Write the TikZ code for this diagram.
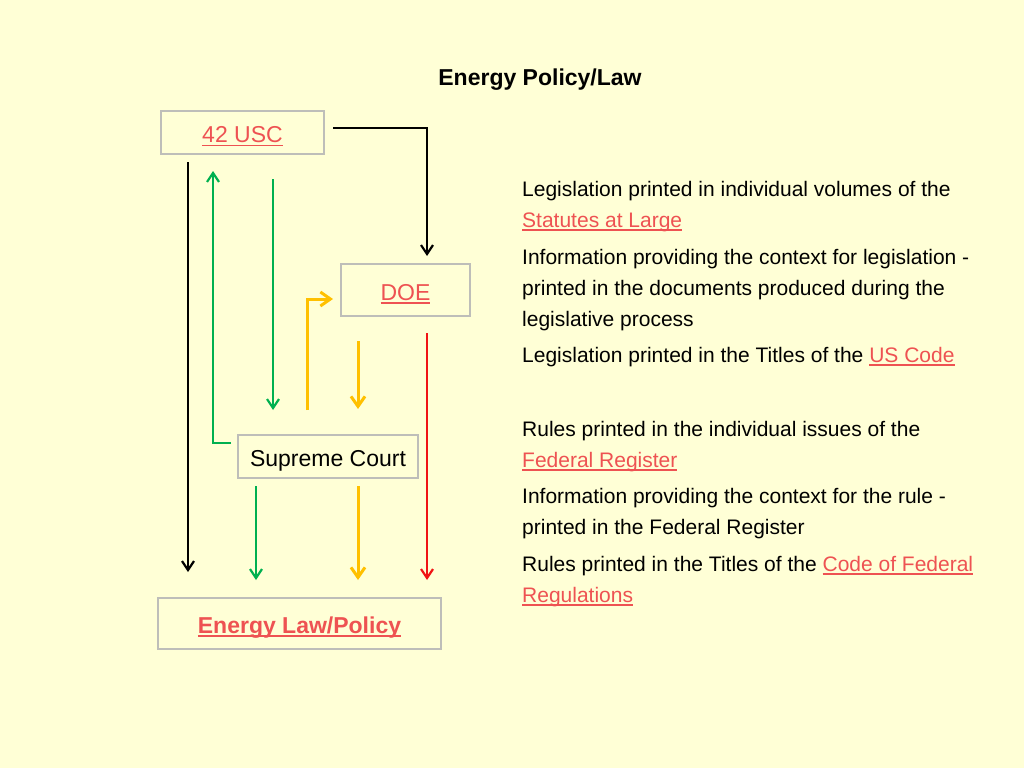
\documentclass[tikz,border=0pt]{standalone}
\usepackage{fontspec}
\setmainfont{Liberation Sans}
\usetikzlibrary{arrows.meta}
\definecolor{bgyellow}{RGB}{255,255,214}
\definecolor{linkred}{RGB}{238,82,82}
\definecolor{boxgray}{RGB}{190,190,185}
\definecolor{arrgreen}{RGB}{0,176,80}
\definecolor{arryellow}{RGB}{255,192,0}
\definecolor{arrred}{RGB}{240,20,20}
\newcommand\lnk[2][1.4pt]{{\color{linkred}\setbox0\hbox{#2}\rlap{\rule[-3.5pt]{\wd0}{#1}}\box0}}
\tikzset{
  boxnode/.style={draw=boxgray, line width=2.8pt, inner sep=0pt, align=center,
    font=\fontsize{23}{27}\selectfont, text height=22pt, text depth=2pt},
  body/.style={anchor=base west, inner sep=0pt, font=\fontsize{21}{31}\selectfont},
  conn/.style={line width=2.2pt, -{Straight Barb[length=9pt,width=12pt,line width=2.2pt]}},
  thickconn/.style={line width=3pt, -{Straight Barb[length=10pt,width=14pt,line width=3pt]}},
}
\begin{document}
\begin{tikzpicture}[x=1pt,y=-1pt]
\fill[bgyellow] (0,0) rectangle (1024,768);
\useasboundingbox (0,0) rectangle (1024,768);

% title
\node[anchor=base, inner sep=0pt, font=\fontsize{23}{27}\selectfont\bfseries] (title) at (540,85) {Energy Policy/Law};

% boxes
\node[boxnode, minimum width=163pt, minimum height=43pt] (usc) at (242.5,132.5) {\lnk{42 USC}};
\node[boxnode, minimum width=129pt, minimum height=52pt] (doe) at (405.5,290) {\lnk{DOE}};
\node[boxnode, minimum width=180pt, minimum height=43pt] (sc) at (328,456.5) {Supreme Court};
\node[boxnode, minimum width=283pt, minimum height=51pt] (elp) at (299.5,623.5) {\bfseries\lnk[2pt]{Energy Law/Policy}};

% connector end points
\coordinate (a1) at (333,128);
\coordinate (a2) at (427,256);
\coordinate (b1) at (188,162);
\coordinate (b2) at (188,572);
\coordinate (c1) at (231,443);
\coordinate (c2) at (213,171);
\coordinate (d1) at (273,179);
\coordinate (d2) at (273,410);
\coordinate (e1) at (307,410);
\coordinate (e2) at (333,299);
\coordinate (f1) at (358,341);
\coordinate (f2) at (358,409);
\coordinate (g1) at (427,333);
\coordinate (g2) at (427,580);
\coordinate (h1) at (256,486);
\coordinate (h2) at (256,580);
\coordinate (i1) at (358,486);
\coordinate (i2) at (358,580);

\draw[conn, black] (a1) -| (a2);
\draw[conn, black] (b1) -- (b2);
\draw[conn, arrgreen] (c1) -| (c2);
\draw[conn, arrgreen] (d1) -- (d2);
\draw[thickconn, arryellow] (e1) |- (e2);
\draw[thickconn, arryellow] (f1) -- (f2);
\draw[conn, arrred] (g1) -- (g2);
\draw[conn, arrgreen] (h1) -- (h2);
\draw[thickconn, arryellow] (i1) -- (i2);

% right-hand text
\node[body] (t1) at (522,196) {Legislation printed in individual volumes of the};
\node[body] (t2) at (522,227) {\lnk{Statutes at Large}};
\node[body] (t3) at (522,264) {Information providing the context for legislation -};
\node[body] (t4) at (522,295) {printed in the documents produced during the};
\node[body] (t5) at (522,326) {legislative process};
\node[body] (t6) at (522,362) {Legislation printed in the Titles of the \lnk{US Code}};

\node[body] (u1) at (522,436) {Rules printed in the individual issues of the};
\node[body] (u2) at (522,467) {\lnk{Federal Register}};
\node[body] (u3) at (522,503) {Information providing the context for the rule -};
\node[body] (u4) at (522,534) {printed in the Federal Register};
\node[body] (u5) at (522,571) {Rules printed in the Titles of the \lnk{Code of Federal}};
\node[body] (u6) at (522,602) {\lnk{Regulations}};
\end{tikzpicture}
\end{document}
